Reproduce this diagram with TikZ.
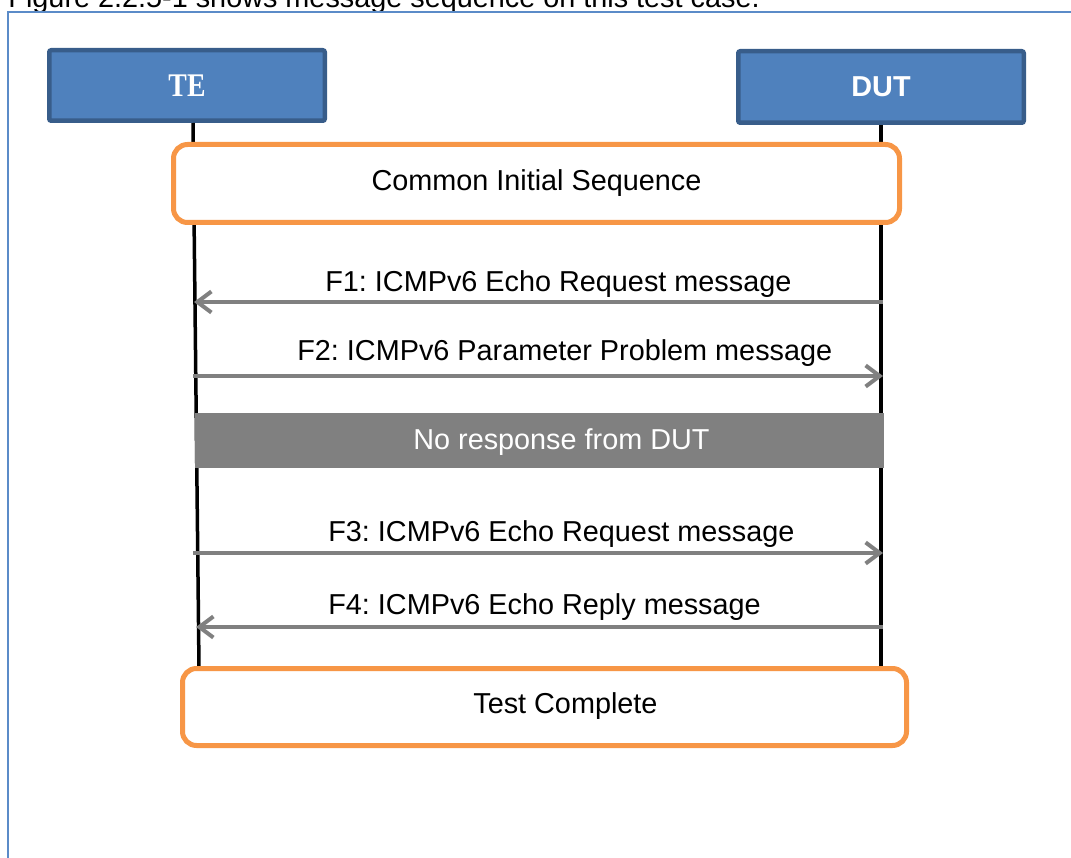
\documentclass[tikz,border=0pt]{standalone}
\usepackage{fontspec}
\newfontfamily\arialfont{Liberation Sans}
\newfontfamily\entityserif{Liberation Serif}
\usetikzlibrary{arrows.meta}
\usetikzlibrary{positioning}
\definecolor{boxblue}{HTML}{4F81BD}
\definecolor{boxedge}{HTML}{385D8A}
\definecolor{phaseorange}{HTML}{F79646}
\definecolor{msggray}{HTML}{808080}
\definecolor{frameblue}{HTML}{5B8BC8}
\newlength{\pxl}
\setlength{\pxl}{0.02cm}
\newcommand{\msgfont}{\arialfont\fontsize{16.4}{20}\selectfont\frenchspacing}
\tikzset{
  entity/.style={draw=boxedge, fill=boxblue, line width=4.5\pxl, rounded corners=2\pxl, inner sep=0pt, text=white},
  phase/.style={draw=phaseorange, fill=white, line width=5\pxl, rounded corners=14\pxl, inner sep=0pt, font=\msgfont},
  band/.style={fill=msggray, inner sep=0pt},
  lifeline/.style={line width=3.5\pxl, black},
  msg/.style={line width=4\pxl, msggray, ->},
  lbl/.style={anchor=base west, inner sep=0pt, font=\msgfont}
}
\begin{document}
\begin{tikzpicture}[x=0.02cm, y=-0.02cm, >={Straight Barb[length=8pt,width=12pt]}]
\useasboundingbox (0,0) rectangle (1071,858);
\clip (0,0) rectangle (1071,858);
\node[anchor=base east, inner sep=0pt, font=\msgfont] (caption) at (760,8) {Figure 2.2.5-1 shows message sequence on this test case.};
\draw[frameblue, line width=1.5\pxl] (8,12) rectangle (1090,880);
\node[entity, minimum width=275.5\pxl, minimum height=70.5\pxl] (TE) at (187,85.5) {\scalebox{0.84}[1]{\entityserif\fontsize{18.8}{20}\selectfont\bfseries TE}};
\node[entity, minimum width=285.5\pxl, minimum height=71.5\pxl, font=\msgfont\bfseries] (DUT) at (881,87) {DUT};
\coordinate (teend) at (199,668);
\coordinate (dutend) at (881,668);
\draw[lifeline] ([xshift=6\pxl]TE.south) -- (teend);
\draw[lifeline] (DUT.south) -- (dutend);
\node[phase, minimum width=726\pxl, minimum height=78\pxl] (init) at (536.5,183.5) {Common Initial Sequence};
\coordinate (d1) at (883,302);
\coordinate (t1) at (194,302);
\coordinate (t2) at (193,376);
\coordinate (d2) at (883,376);
\coordinate (t3) at (193,553);
\coordinate (d3) at (883,553);
\coordinate (d4) at (883,627);
\coordinate (t4) at (196,627);
\draw[msg] (d1) -- (t1);
\node[lbl] (f1) at (325,291) {F1: ICMPv6 Echo Request message};
\draw[msg] (t2) -- (d2);
\node[lbl] (f2) at (297,360) {F2: ICMPv6 Parameter Problem message};
\node[band, minimum width=689\pxl, minimum height=55\pxl] (noresp) at (539.5,440.5) {};
\node[lbl, text=white] (noresptext) at (413,449) {No response from DUT};
\draw[msg] (t3) -- (d3);
\node[lbl] (f3) at (328,541) {F3: ICMPv6 Echo Request message};
\draw[msg] (d4) -- (t4);
\node[lbl] (f4) at (328,614) {F4: ICMPv6 Echo Reply message};
\node[phase, minimum width=724\pxl, minimum height=77\pxl] (done) at (544.5,707) {};
\node[lbl] (donetext) at (473,713) {Test Complete};
\end{tikzpicture}
\end{document}
